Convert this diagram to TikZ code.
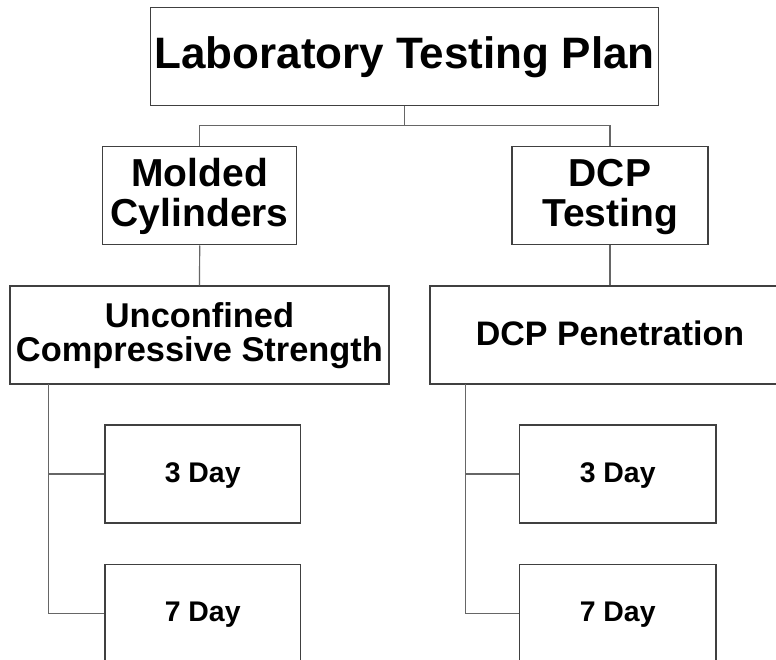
\documentclass[tikz,border=0pt]{standalone}
\usepackage{fontspec}
\setmainfont{Liberation Sans}
\begin{document}
\begin{tikzpicture}[x=1pt,y=-1pt,
  box/.style={draw=black!75,line width=1.2pt,fill=white,inner sep=0pt,
    minimum width=#1,minimum height=98pt},
  link/.style={draw=black!60,line width=1.2pt},
  lbl/.style={anchor=base,inner sep=0pt,font=\bfseries\fontsize{#1}{#1}\selectfont},
]
\clip (0,0) rectangle (776,660);
\useasboundingbox (0,0) rectangle (776,660);
\fill[white] (0,0) rectangle (776,660);

% boxes
\node[box=507.6pt] (plan) at (404.5,56.3) {};
\node[box=194pt]   (mold) at (199.7,195.9) {};
\node[box=196pt]   (dcpt) at (610,195.9) {};
\node[box=379pt]   (ucs)  at (199.5,335) {};
\node[box=370pt]   (pen)  at (615,335) {};
\node[box=195.3pt] (ucsA) at (202.7,473.9) {};
\node[box=195.3pt] (ucsB) at (202.7,613.2) {};
\node[box=196.7pt] (penA) at (617.7,473.9) {};
\node[box=196.7pt] (penB) at (617.7,613.2) {};

% connectors
\coordinate (bus) at (404.5,125.7);
\path[link] (plan.south) -- (bus);
\path[link] (mold.north) |- (bus) -| (dcpt.north);
\path[link] (mold.south) -- (ucs.north);
\path[link] (dcpt.south) -- (dcpt.south |- pen.north);
\coordinate (ls) at (48.3,384.3);
\coordinate (rs) at (465.7,384.3);
\path[link] (ls) |- (ucsB.west);
\path[link] (ls |- ucsA.west) -- (ucsA.west);
\path[link] (rs) |- (penB.west);
\path[link] (rs |- penA.west) -- (penA.west);

% labels
\node[lbl=44pt] (t0)  at (404.5,68.3)  {Laboratory Testing Plan};
\node[lbl=39pt] (t1a) at (199.7,186.8) {Molded};
\node[lbl=39pt] (t1b) at (199.7,226.2) {Cylinders};
\node[lbl=39pt] (t2a) at (610,186.8)   {DCP};
\node[lbl=39pt] (t2b) at (610,226.2)   {Testing};
\node[lbl=34.4pt] (t3a) at (199.5,327.3) {Unconfined};
\node[lbl=34.4pt] (t3b) at (199.5,361.7) {Compressive Strength};
\node[lbl=34pt] (t4) at (610,345.7)  {DCP Penetration};
\node[lbl=28.4pt] (t5) at (202.7,482)    {3 Day};
\node[lbl=28.4pt] (t6) at (202.7,621.7)  {7 Day};
\node[lbl=28.4pt] (t7) at (617.7,482)    {3 Day};
\node[lbl=28.4pt] (t8) at (617.7,621.7)  {7 Day};
\end{tikzpicture}
\end{document}
